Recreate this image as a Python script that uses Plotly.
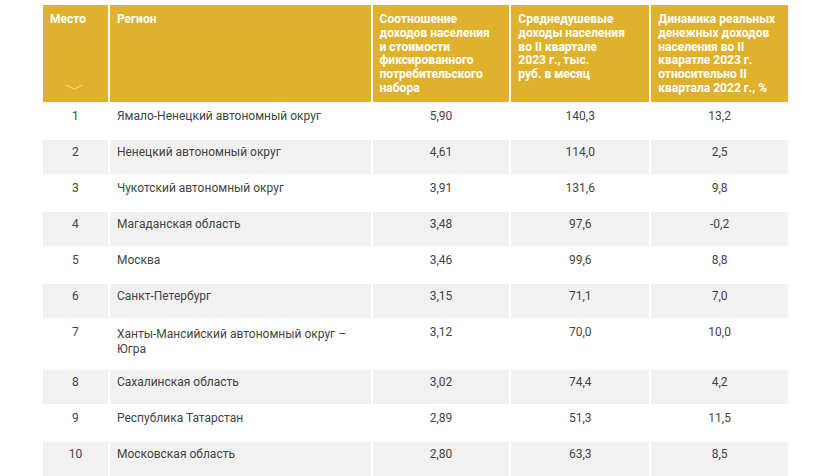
# -*- coding: utf-8 -*-
import plotly.graph_objects as go

# ─────────── данные ────────────────────────────────────────────────
PLACES = [1, 2, 3, 4, 5, 6, 7, 8, 9, 10]
REGIONS = [
    "Ямало-Ненецкий автономный округ",
    "Ненецкий автономный округ",
    "Чукотский автономный округ",
    "Магаданская область",
    "Москва",
    "Санкт-Петербург",
    "Ханты-Мансийский автономный округ –<br>Югра",
    "Сахалинская область",
    "Республика Татарстан",
    "Московская область",
]
RATIO = [5.90, 4.61, 3.91, 3.48, 3.46, 3.15, 3.12, 3.02, 2.89, 2.80]
INCOME = [140.3, 114.0, 131.6, 97.6, 99.6, 71.1, 70.0, 74.4, 51.3, 63.3]
DYNAMICS = [13.2, 2.5, 9.8, -0.2, 8.8, 7.0, 10.0, 4.2, 11.5, 8.5]

HEADERS = [
    "Место<br>",
    "Регион<br>",
    "Соотношение<br>доходов населения<br>и стоимости<br>фиксированного<br>потребительского<br>набора",
    "Среднедушевые<br>доходы населения<br>во II квартале<br>2023 г., тыс.<br>руб. в месяц",
    "Динамика реальных<br>денежных доходов<br>населения во II<br>кваратле 2023 г.<br>относительно II<br>квартала 2022 г., %",
]

# ─────────── стиль ────────────────────────────────────────────────
FONT = "Roboto, sans-serif"
GOLD = "#DFB12D"
GREY = "#F1F1F1"
W, H = 821, 476
X0, X1 = 42, 790
Y_TOP = 4


def ru(v, nd):
    # десятичная запятая
    return f"{v:.{nd}f}".replace(".", ",")


def head(t):
    # межстрочный интервал задаёт шрифт заголовка, сам текст — 12px
    parts = t.split("<br>")
    return "<b>" + "<br>".join(
        f"<span style='font-size:12px'>{p}</span>" if p else "" for p in parts) + "</b>"


def region(t):
    # двухстрочная ячейка в оригинале чуть выше — добавляем невидимый хвост
    if "<br>" in t:
        return t + "<span style='font-size:28px'>&nbsp;</span>"
    return t


row_fill = ["white" if i % 2 == 0 else GREY for i in range(len(PLACES))]

fig = go.Figure()

fig.add_trace(go.Table(
    domain=dict(x=[X0 / W, X1 / W], y=[0, 1 - Y_TOP / H]),
    columnwidth=[67, 263, 139, 140, 139],
    header=dict(
        values=[head(h) for h in HEADERS],
        fill_color=GOLD,
        line=dict(color="white", width=2),
        align="left",
        font=dict(family=FONT, size=10.6, color="white"),
        height=94,
    ),
    cells=dict(
        values=[PLACES, [region(r) for r in REGIONS],
                [ru(v, 2) for v in RATIO],
                [ru(v, 1) for v in INCOME],
                [ru(v, 1) for v in DYNAMICS]],
        fill_color=[row_fill] * 5,
        line=dict(color="white", width=2),
        align=["center", "left", "center", "center", "center"],
        font=dict(family=FONT, size=12, color="#444444"),
        height=36,
    ),
))

# стрелка сортировки в колонке «Место»
fig.add_annotation(
    x=63 / W, y=1 - 75 / H, xref="paper", yref="paper",
    text="﹀", showarrow=False,
    font=dict(family=FONT, size=20, color="#F6D98A"),
)

fig.update_layout(
    width=W, height=H,
    margin=dict(l=0, r=0, t=0, b=0),
    paper_bgcolor="white",
)

fig.write_html("out.html", config={"displayModeBar": False},
               post_script="document.body.style.margin='0px';")
